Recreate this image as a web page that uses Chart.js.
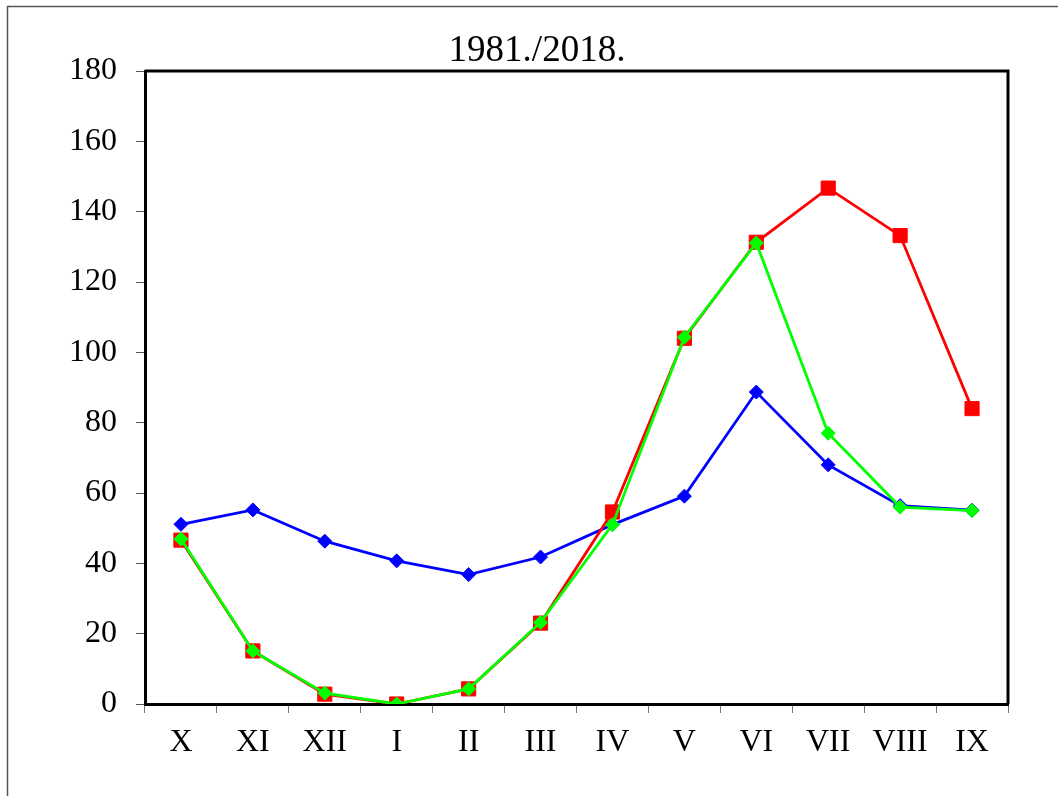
<!DOCTYPE html>
<html lang="hr">
<head>
  <meta charset="UTF-8">
  <title>1981./2018.</title>
  <script src="https://cdn.jsdelivr.net/npm/chart.js"></script>
  <style>
    body {
      margin: 0;
      background: #ffffff;
    }
    canvas {
      display: block;
    }
  </style>
</head>
<body>
  <canvas id="chart" width="1058" height="796"></canvas>

  <script>
    const months = ['X', 'XI', 'XII', 'I', 'II', 'III', 'IV', 'V', 'VI', 'VII', 'VIII', 'IX'];
    const blueSeries = [51.1, 55.2, 46.3, 40.7, 36.8, 41.8, 51.0, 59.1, 88.7, 68.0, 56.4, 55.1];
    const redSeries = [46.6, 15.1, 2.8, 0, 4.3, 23.0, 54.6, 104.0, 131.3, 146.7, 133.2, 84.0];
    const greenSeries = [46.9, 15.1, 3.1, 0, 4.3, 23.2, 51.0, 104.3, 131.1, 77.0, 56.0, 55.0];
    const yTicks = { min: 0, max: 180, step: 20 };

    const fontFamily = '"Liberation Serif", "Times New Roman", serif';

    // plot frame (top + right edges) and the thin grey outer frame
    const framePlugin = {
      id: 'frame',
      beforeDraw(chart) {
        const c = chart.ctx;
        c.save();
        c.strokeStyle = '#555555';
        c.lineWidth = 1.5;
        c.strokeRect(7.5, 6.5, chart.width + 20, chart.height + 20);
        c.restore();
      },
      afterDraw(chart) {
        const a = chart.chartArea;
        const c = chart.ctx;
        c.save();
        c.strokeStyle = '#000000';
        c.lineWidth = 3;
        c.beginPath();
        c.moveTo(a.left, a.top);
        c.lineTo(a.right, a.top);
        c.lineTo(a.right, a.bottom);
        c.stroke();
        c.restore();
      }
    };

    function series(data, color, style, radius, order) {
      return {
        data: data,
        borderColor: color,
        backgroundColor: color,
        borderWidth: 2.8,
        pointStyle: style,
        pointRadius: radius,
        pointBorderWidth: 1,
        pointBorderColor: color,
        pointBackgroundColor: color,
        tension: 0,
        order: order
      };
    }

    new Chart(document.getElementById('chart'), {
      type: 'line',
      data: {
        labels: months,
        datasets: [
          series(blueSeries, '#0000ff', 'rectRot', 7, 2),
          series(redSeries, '#ff0000', 'rect', 10, 1),
          series(greenSeries, '#00ff00', 'rectRot', 7, 0)
        ]
      },
      plugins: [framePlugin],
      options: {
        responsive: false,
        animation: false,
        layout: { padding: { left: 66, right: 50, top: 0, bottom: 0 } },
        plugins: {
          legend: { display: false },
          tooltip: { enabled: false },
          title: {
            display: true,
            text: '1981./2018.',
            color: '#000000',
            font: { family: fontFamily, size: 37, weight: 'normal', lineHeight: 1 },
            padding: { top: 33, bottom: 1 }
          }
        },
        scales: {
          x: {
            offset: true,
            grid: {
              offset: true,
              drawOnChartArea: false,
              color: '#777777',
              lineWidth: 1,
              tickLength: 9
            },
            border: { color: '#000000', width: 3 },
            ticks: {
              color: '#000000',
              padding: 10,
              maxRotation: 0,
              autoSkip: false,
              font: { family: fontFamily, size: 32 }
            },
            afterFit(scale) { scale.height = 92; }
          },
          y: {
            min: yTicks.min,
            max: yTicks.max,
            grid: {
              drawOnChartArea: false,
              color: '#555555',
              lineWidth: 1,
              tickLength: 9
            },
            border: { color: '#000000', width: 3 },
            ticks: {
              stepSize: yTicks.step,
              color: '#000000',
              padding: 19,
              font: { family: fontFamily, size: 32 }
            },
            afterFit(scale) { scale.width = 79; }
          }
        }
      }
    });
  </script>
</body>
</html>
